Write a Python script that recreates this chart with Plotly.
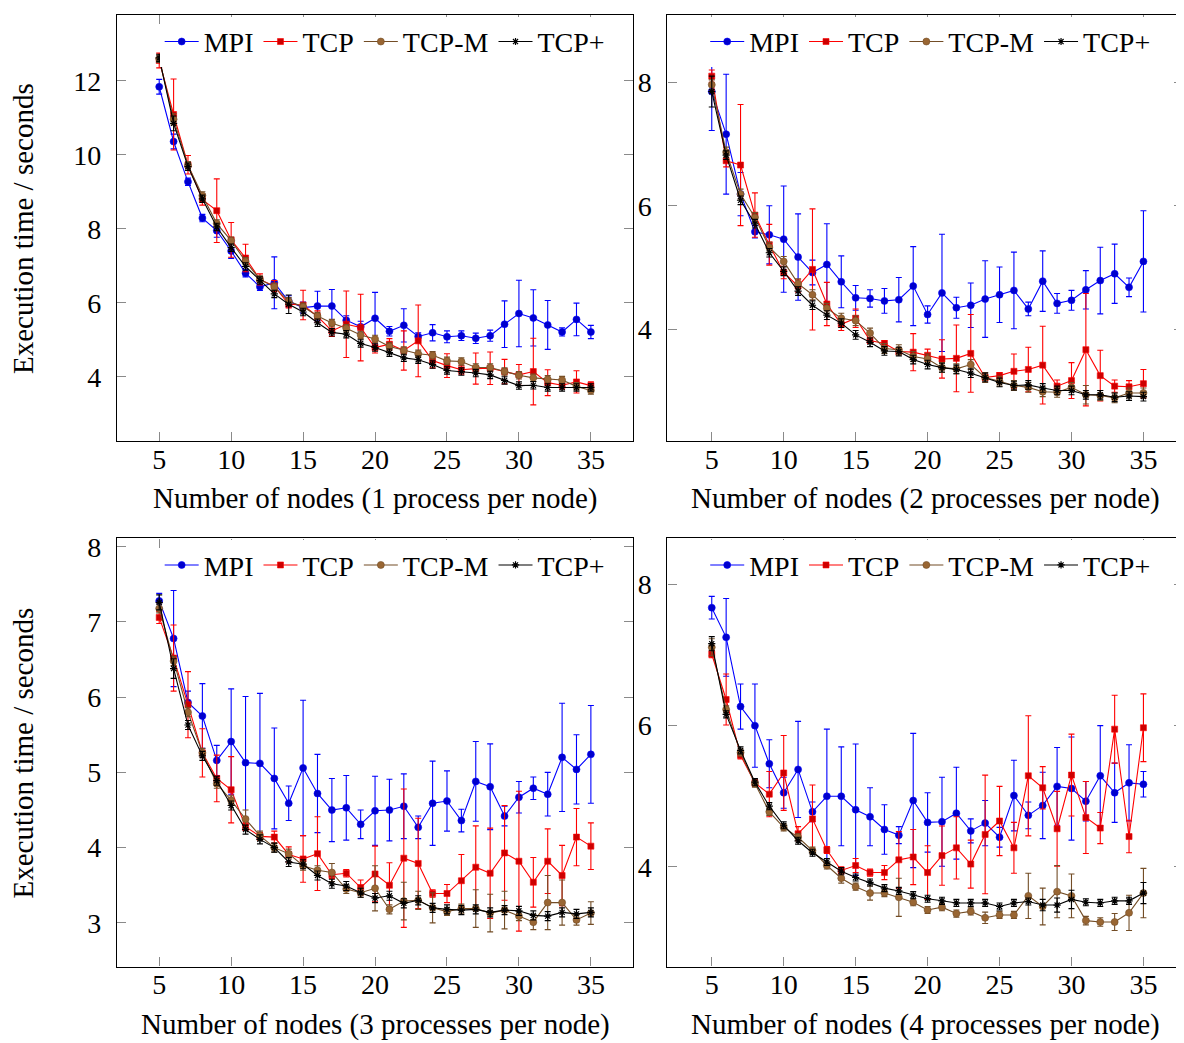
import plotly.graph_objects as go

nodes = list(range(5, 36))

# ---------- Panel 1: 1 process per node ----------
p1_mpi = [11.84, 10.36, 9.27, 8.29, 7.95, 7.40, 6.80, 6.43, 6.54, 6.04, 5.87, 5.91, 5.91, 5.53, 5.35, 5.58,
          5.23, 5.39, 5.09, 5.19, 5.08, 5.11, 5.04, 5.11, 5.42, 5.71, 5.59, 5.40, 5.21, 5.55, 5.21]
p1_mpi_err = [0.2, 0.2, 0.1, 0.1, 0.18, 0.2, 0.1, 0.1, 0.7, 0.15, 0.15, 0.4, 0.45, 0.12, 0.15, 0.7,
              0.13, 0.45, 0.1, 0.22, 0.16, 0.13, 0.14, 0.15, 0.63, 0.9, 0.76, 0.66, 0.11, 0.44, 0.18]
p1_tcp = [12.55, 11.09, 9.73, 8.79, 8.49, 7.70, 7.21, 6.63, 6.45, 5.96, 5.94, 5.63, 5.24, 5.42, 5.33, 4.79,
          4.88, 4.71, 4.97, 4.44, 4.30, 4.19, 4.22, 4.23, 4.14, 4.05, 4.14, 3.84, 3.77, 3.86, 3.76]
p1_tcp_err = [0.2, 0.96, 0.25, 0.15, 0.86, 0.47, 0.37, 0.15, 0.15, 0.1, 0.4, 0.15, 0.15, 0.9, 0.9, 0.15,
              0.15, 0.53, 0.97, 0.2, 0.32, 0.12, 0.42, 0.44, 0.33, 0.28, 0.9, 0.35, 0.1, 0.3, 0.1]
p1_tcpm = [12.6, 10.96, 9.72, 8.90, 8.14, 7.68, 7.12, 6.63, 6.43, 6.04, 5.89, 5.64, 5.45, 5.31, 5.13, 5.02,
           4.82, 4.71, 4.62, 4.58, 4.43, 4.41, 4.25, 4.25, 4.14, 4.04, 3.97, 3.93, 3.91, 3.74, 3.63]
p1_tcpm_err = [0.1, 0.15, 0.1, 0.1, 0.1, 0.1, 0.1, 0.1, 0.1, 0.1, 0.1, 0.1, 0.1, 0.1, 0.1, 0.1,
               0.1, 0.1, 0.1, 0.1, 0.1, 0.1, 0.1, 0.1, 0.1, 0.1, 0.1, 0.1, 0.1, 0.1, 0.1]
p1_tcpp = [12.62, 10.85, 9.68, 8.81, 8.05, 7.49, 6.98, 6.60, 6.24, 5.96, 5.75, 5.46, 5.20, 5.15, 4.90, 4.79,
           4.65, 4.51, 4.46, 4.33, 4.17, 4.14, 4.10, 4.05, 3.90, 3.76, 3.77, 3.71, 3.71, 3.71, 3.71]
p1_tcpp_err = [0.1, 0.2, 0.1, 0.1, 0.1, 0.1, 0.1, 0.1, 0.1, 0.25, 0.1, 0.1, 0.1, 0.1, 0.1, 0.1,
               0.1, 0.1, 0.1, 0.1, 0.1, 0.1, 0.1, 0.1, 0.1, 0.1, 0.1, 0.1, 0.1, 0.1, 0.1]

# ---------- Panel 2: 2 processes per node ----------
p2_mpi = [7.85, 7.16, 6.19, 5.58, 5.53, 5.46, 5.17, 4.92, 5.05, 4.77, 4.51, 4.50, 4.46, 4.48, 4.70, 4.24,
          4.59, 4.35, 4.39, 4.49, 4.56, 4.63, 4.33, 4.78, 4.42, 4.47, 4.64, 4.79, 4.90, 4.68, 5.10]
p2_mpi_err = [0.63, 0.97, 0.35, 0.1, 0.47, 0.86, 0.7, 0.2, 0.66, 0.42, 0.2, 0.14, 0.2, 0.36, 0.64, 0.14,
              0.95, 0.17, 0.36, 0.62, 0.45, 0.62, 0.11, 0.49, 0.16, 0.16, 0.31, 0.54, 0.48, 0.15, 0.82]
p2_tcp = [8.1, 6.73, 6.66, 5.85, 5.37, 4.92, 4.70, 4.97, 4.41, 4.08, 4.18, 3.82, 3.77, 3.64, 3.63, 3.58,
          3.52, 3.53, 3.61, 3.22, 3.25, 3.32, 3.35, 3.42, 3.08, 3.17, 3.67, 3.25, 3.08, 3.07, 3.12]
p2_tcp_err = [0.1, 0.1, 0.98, 0.36, 0.33, 0.1, 0.1, 0.98, 0.35, 0.1, 0.15, 0.05, 0.05, 0.05, 0.3, 0.1,
              0.31, 0.54, 0.63, 0.05, 0.05, 0.28, 0.36, 0.63, 0.1, 0.29, 0.91, 0.41, 0.1, 0.1, 0.23]
p2_tcpm = [7.96, 6.87, 6.19, 5.81, 5.33, 5.10, 4.74, 4.56, 4.34, 4.18, 4.14, 3.94, 3.69, 3.67, 3.56, 3.52,
           3.38, 3.36, 3.43, 3.22, 3.16, 3.09, 3.06, 2.99, 2.98, 3.06, 2.94, 2.93, 2.89, 2.97, 2.97]
p2_tcpm_err = [0.08, 0.08, 0.08, 0.08, 0.08, 0.08, 0.08, 0.08, 0.08, 0.08, 0.08, 0.08, 0.08, 0.08, 0.08, 0.08,
               0.08, 0.08, 0.08, 0.08, 0.08, 0.08, 0.08, 0.08, 0.08, 0.08, 0.15, 0.08, 0.08, 0.08, 0.08]
p2_tcpp = [7.85, 6.82, 6.09, 5.71, 5.24, 4.94, 4.62, 4.39, 4.23, 4.10, 3.91, 3.79, 3.65, 3.64, 3.51, 3.43,
           3.38, 3.35, 3.29, 3.22, 3.14, 3.09, 3.10, 3.05, 3.01, 3.01, 2.94, 2.94, 2.90, 2.92, 2.91]
p2_tcpp_err = [0.25, 0.07, 0.07, 0.07, 0.07, 0.07, 0.07, 0.07, 0.07, 0.07, 0.07, 0.07, 0.07, 0.07, 0.07, 0.07,
               0.07, 0.07, 0.07, 0.07, 0.07, 0.07, 0.07, 0.07, 0.07, 0.07, 0.07, 0.07, 0.07, 0.07, 0.07]

# ---------- Panel 3: 3 processes per node ----------
p3_mpi = [7.28, 6.78, 5.93, 5.75, 5.16, 5.41, 5.13, 5.12, 4.92, 4.59, 5.06, 4.72, 4.50, 4.53, 4.31, 4.49,
          4.50, 4.55, 4.27, 4.59, 4.62, 4.36, 4.88, 4.81, 4.42, 4.67, 4.79, 4.71, 5.20, 5.04, 5.24]
p3_mpi_err = [0.1, 0.64, 0.15, 0.43, 0.2, 0.7, 0.88, 0.93, 0.67, 0.23, 0.9, 0.52, 0.42, 0.43, 0.19, 0.46,
              0.41, 0.43, 0.15, 0.56, 0.4, 0.15, 0.53, 0.57, 0.13, 0.21, 0.15, 0.29, 0.72, 0.46, 0.65]
p3_tcp = [7.06, 6.52, 5.90, 5.26, 4.92, 4.77, 4.28, 4.15, 4.14, 3.91, 3.85, 3.92, 3.64, 3.66, 3.47, 3.65,
          3.50, 3.86, 3.79, 3.39, 3.39, 3.56, 3.74, 3.66, 3.93, 3.82, 3.54, 3.82, 3.63, 4.14, 4.02]
p3_tcp_err = [0.08, 0.44, 0.44, 0.32, 0.31, 0.44, 0.05, 0.05, 0.08, 0.1, 0.31, 0.49, 0.05, 0.05, 0.1, 0.37,
              0.3, 0.92, 0.6, 0.05, 0.12, 0.35, 0.55, 0.6, 0.63, 0.93, 0.33, 0.43, 0.4, 0.38, 0.31]
p3_tcpm = [7.18, 6.48, 5.80, 5.26, 4.85, 4.63, 4.38, 4.16, 4.00, 3.92, 3.76, 3.70, 3.67, 3.45, 3.40, 3.46,
           3.18, 3.29, 3.30, 3.20, 3.15, 3.19, 3.19, 3.13, 3.17, 3.09, 3.01, 3.27, 3.27, 3.04, 3.13]
p3_tcpm_err = [0.06, 0.06, 0.06, 0.06, 0.06, 0.06, 0.12, 0.06, 0.06, 0.06, 0.06, 0.06, 0.12, 0.06, 0.06, 0.3,
               0.06, 0.25, 0.12, 0.2, 0.05, 0.06, 0.25, 0.25, 0.25, 0.06, 0.1, 0.36, 0.3, 0.07, 0.15]
p3_tcpp = [7.26, 6.38, 5.63, 5.22, 4.89, 4.56, 4.24, 4.11, 4.00, 3.81, 3.78, 3.63, 3.52, 3.49, 3.40, 3.33,
           3.36, 3.26, 3.30, 3.20, 3.18, 3.17, 3.18, 3.14, 3.17, 3.16, 3.10, 3.09, 3.14, 3.12, 3.14]
p3_tcpp_err = [0.1, 0.13, 0.06, 0.06, 0.06, 0.06, 0.06, 0.06, 0.06, 0.06, 0.06, 0.06, 0.06, 0.06, 0.06, 0.06,
               0.06, 0.06, 0.06, 0.06, 0.06, 0.06, 0.06, 0.06, 0.06, 0.06, 0.06, 0.06, 0.06, 0.06, 0.06]

# ---------- Panel 4: 4 processes per node ----------
p4_mpi = [7.67, 7.25, 6.27, 6.00, 5.46, 5.05, 5.38, 4.78, 5.00, 5.00, 4.81, 4.71, 4.53, 4.45, 4.94, 4.63,
          4.64, 4.76, 4.51, 4.62, 4.42, 5.01, 4.73, 4.87, 5.14, 5.11, 4.93, 5.29, 5.05, 5.19, 5.17]
p4_mpi_err = [0.16, 0.55, 0.32, 0.59, 0.34, 0.22, 0.68, 0.14, 0.95, 0.7, 0.93, 0.41, 0.35, 0.12, 0.95, 0.42,
              0.63, 0.65, 0.17, 0.32, 0.14, 0.5, 0.19, 0.47, 0.55, 0.73, 0.28, 0.71, 0.42, 0.54, 0.18]
p4_tcp = [7.01, 6.37, 5.58, 5.19, 5.03, 5.33, 4.47, 4.68, 4.24, 3.95, 4.02, 3.92, 3.92, 4.10, 4.14, 3.92,
          4.16, 4.27, 4.04, 4.46, 4.65, 4.27, 5.29, 5.12, 4.54, 5.30, 4.70, 4.55, 5.95, 4.43, 5.97]
p4_tcp_err = [0.05, 0.36, 0.05, 0.05, 0.32, 0.53, 0.1, 0.48, 0.05, 0.05, 0.1, 0.05, 0.1, 0.4, 0.39, 0.38,
              0.42, 0.44, 0.34, 0.84, 0.49, 0.36, 0.85, 0.3, 0.53, 0.58, 0.51, 0.22, 0.48, 0.23, 0.48]
p4_tcpm = [7.11, 6.23, 5.62, 5.18, 4.78, 4.56, 4.42, 4.23, 4.02, 3.84, 3.72, 3.63, 3.63, 3.57, 3.50, 3.39,
           3.43, 3.34, 3.37, 3.28, 3.32, 3.32, 3.59, 3.44, 3.65, 3.59, 3.24, 3.22, 3.22, 3.35, 3.63]
p4_tcpm_err = [0.12, 0.05, 0.05, 0.05, 0.05, 0.05, 0.05, 0.05, 0.05, 0.07, 0.05, 0.1, 0.05, 0.27, 0.05, 0.05,
               0.05, 0.05, 0.05, 0.08, 0.05, 0.05, 0.32, 0.26, 0.37, 0.31, 0.06, 0.06, 0.12, 0.25, 0.35]
p4_tcpp = [7.16, 6.16, 5.65, 5.20, 4.86, 4.59, 4.37, 4.20, 4.07, 3.94, 3.85, 3.78, 3.70, 3.66, 3.60, 3.55,
           3.52, 3.49, 3.49, 3.49, 3.44, 3.49, 3.51, 3.46, 3.46, 3.54, 3.50, 3.49, 3.52, 3.52, 3.63]
p4_tcpp_err = [0.1, 0.05, 0.05, 0.05, 0.05, 0.05, 0.05, 0.05, 0.05, 0.05, 0.05, 0.05, 0.05, 0.05, 0.05, 0.05,
               0.05, 0.05, 0.05, 0.05, 0.05, 0.05, 0.05, 0.08, 0.1, 0.13, 0.05, 0.05, 0.05, 0.05, 0.15]

series_names = ["MPI", "TCP", "TCP-M", "TCP+"]
x_titles = ["Number of nodes (1 process per node)", "Number of nodes (2 processes per node)",
            "Number of nodes (3 processes per node)", "Number of nodes (4 processes per node)"]
y_title = "Execution time / seconds"

panels = [
    [(p1_mpi, p1_mpi_err), (p1_tcp, p1_tcp_err), (p1_tcpm, p1_tcpm_err), (p1_tcpp, p1_tcpp_err)],
    [(p2_mpi, p2_mpi_err), (p2_tcp, p2_tcp_err), (p2_tcpm, p2_tcpm_err), (p2_tcpp, p2_tcpp_err)],
    [(p3_mpi, p3_mpi_err), (p3_tcp, p3_tcp_err), (p3_tcpm, p3_tcpm_err), (p3_tcpp, p3_tcpp_err)],
    [(p4_mpi, p4_mpi_err), (p4_tcp, p4_tcp_err), (p4_tcpm, p4_tcpm_err), (p4_tcpp, p4_tcpp_err)],
]

styles = [
    dict(line="#0000FF", fill="#0000CC", symbol="circle", size=7),
    dict(line="#FF0000", fill="#CC0000", symbol="square", size=6),
    dict(line="#734D26", fill="#996633", symbol="circle", size=7),
    dict(line="#000000", fill="#000000", symbol="asterisk-open", size=6),
]

# page body has an 8px margin: figure origin sits at screen (8, 8)
OFF = 8
W, H = 1176, 1035
FONT = "Liberation Serif"
FS = 28
FS_TITLE = 29


def px(xs):
    return (xs - OFF) / W


def py(ys):
    return 1 - (ys - OFF) / H


xdomains = [[px(117), px(634)], [px(668), 1.0], [px(117), px(634)], [px(668), 1.0]]
ydomains = [[py(437), 1.0], [py(437), 1.0], [py(966), py(535)], [py(966), py(535)]]
xranges = [[2.06, 37.96], [1.92, 37.75], [2.06, 37.96], [1.92, 37.75]]
yranges = [[2.26, 13.78], [2.19, 9.09], [2.42, 8.11], [2.59, 8.65]]
ydticks = [2, 2, 1, 2]
box_tops = [8, 8, 535, 535]
box_bottoms = [437, 437, 966, 966]
legend_cx = [385, 931, 385, 931]

fig = go.Figure()

for p, data in enumerate(panels):
    ax = "" if p == 0 else str(p + 1)
    leg = "legend" if p == 0 else "legend" + str(p + 1)
    for s, (vals, errs) in enumerate(data):
        st = styles[s]
        if st["symbol"] == "asterisk-open":
            marker = dict(symbol=st["symbol"], size=st["size"], line=dict(color=st["line"], width=1.2))
        else:
            marker = dict(symbol=st["symbol"], size=st["size"], color=st["fill"],
                          line=dict(color=st["line"], width=0.6))
        fig.add_trace(go.Scatter(
            x=nodes, y=vals, mode="lines+markers", name=series_names[s],
            xaxis="x" + ax, yaxis="y" + ax, legend=leg,
            line=dict(color=st["line"], width=1.1),
            marker=marker,
            error_y=dict(type="data", array=errs, visible=True, color=st["line"], thickness=1.1, width=3),
        ))

layout = dict(
    width=W, height=H, margin=dict(l=0, r=0, t=0, b=0),
    paper_bgcolor="white", plot_bgcolor="white",
    font=dict(family=FONT, size=FS, color="black"),
    annotations=[],
)

for p in range(4):
    ax = "" if p == 0 else str(p + 1)
    layout["xaxis" + ax] = dict(
        domain=xdomains[p], range=xranges[p], anchor="y" + ax,
        tickmode="linear", tick0=5, dtick=5, ticks="inside", ticklen=9, tickcolor="#8a8a8a", tickwidth=1,
        showline=True, linecolor="black", linewidth=1.2, mirror="ticks", showgrid=False, zeroline=False,
        ticklabelstandoff=-7, tickfont=dict(family=FONT, size=FS),
    )
    layout["yaxis" + ax] = dict(
        domain=ydomains[p], range=yranges[p], anchor="x" + ax,
        tickmode="linear", tick0=0, dtick=ydticks[p], ticks="inside", ticklen=9, tickcolor="#8a8a8a", tickwidth=1,
        showline=True, linecolor="black", linewidth=1.2, mirror="ticks", showgrid=False, zeroline=False,
        ticklabelstandoff=9, tickfont=dict(family=FONT, size=FS),
    )
    leg = "legend" if p == 0 else "legend" + str(p + 1)
    cx = (xdomains[p][0] + xdomains[p][1]) / 2
    layout[leg] = dict(
        orientation="h", x=px(legend_cx[p]), xanchor="center", y=py(box_tops[p] + 27), yanchor="middle",
        bgcolor="white", borderwidth=0, font=dict(family=FONT, size=FS), tracegroupgap=0,
        itemwidth=34,
    )
    layout["annotations"].append(dict(
        text=x_titles[p], xref="paper", yref="paper", x=cx, y=py(box_bottoms[p] + 58),
        xanchor="center", yanchor="middle", showarrow=False, font=dict(family=FONT, size=FS_TITLE),
    ))
    if p in (0, 2):
        layout["annotations"].append(dict(
            text=y_title, xref="paper", yref="paper", x=px(23),
            y=(ydomains[p][0] + ydomains[p][1]) / 2,
            xanchor="center", yanchor="middle", textangle=-90, showarrow=False,
            font=dict(family=FONT, size=FS_TITLE),
        ))

fig.update_layout(**layout)
fig.write_html("out.html")
